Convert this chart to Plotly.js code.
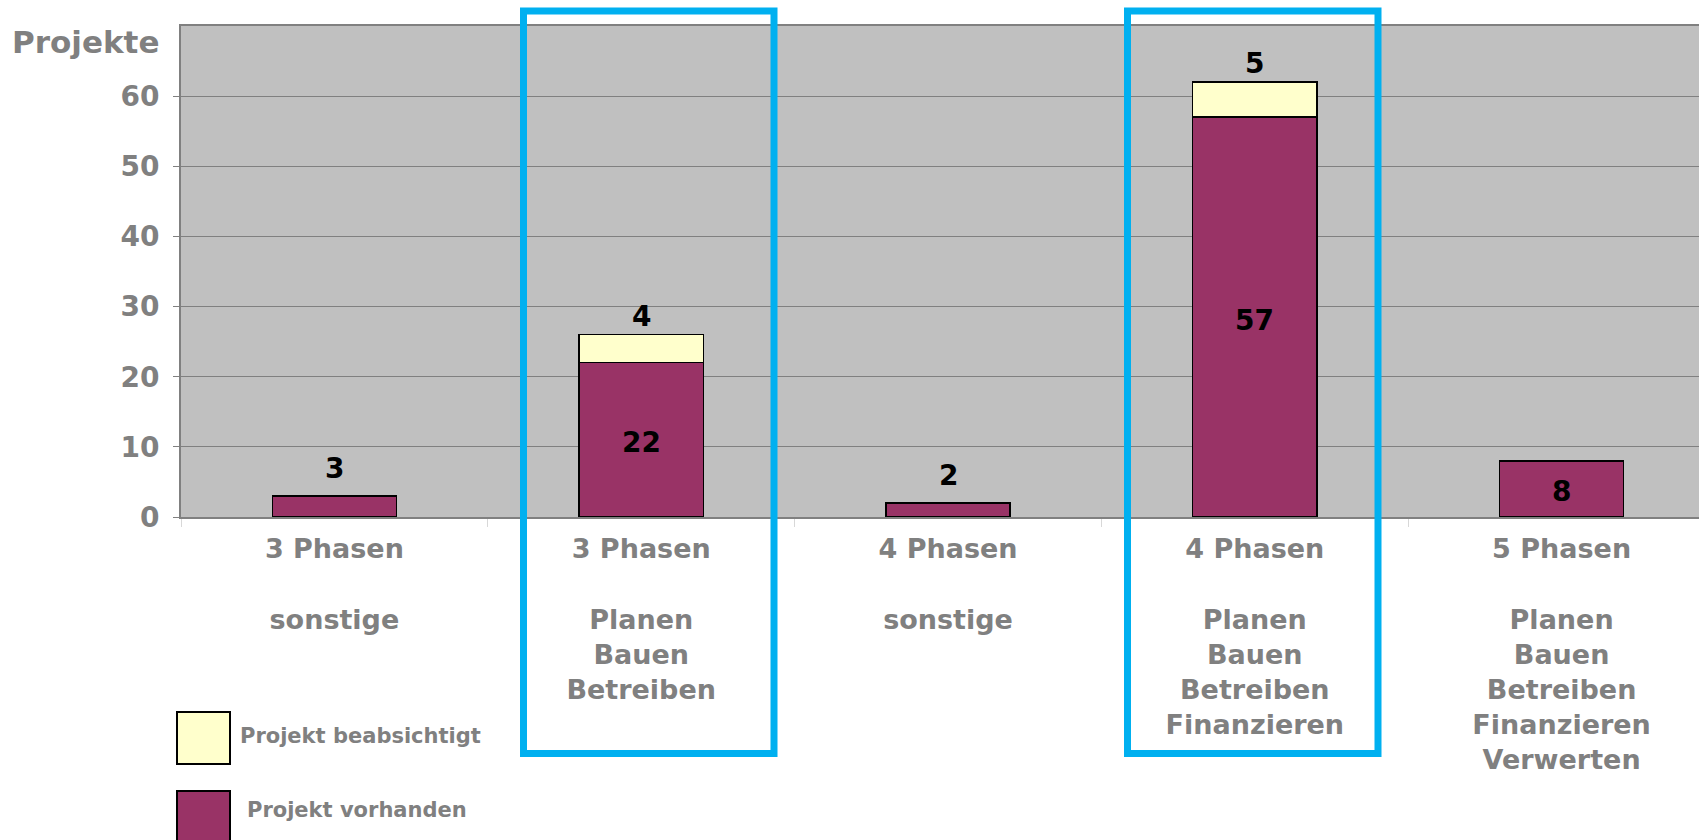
<!DOCTYPE html>
<html>
<head>
<meta charset="utf-8">
<script src="https://cdn.plot.ly/plotly-3.0.1.min.js"></script>
<style>
  html, body { margin: 0; padding: 0; background: #ffffff; overflow: hidden; }
  #chart { width: 1715px; height: 840px; }
</style>
</head>
<body>
<div id="chart"></div>
<script>
// ---- data ----
const categories = [
  '3 Phasen<br><br>sonstige',
  '3 Phasen<br><br>Planen<br>Bauen<br>Betreiben',
  '4 Phasen<br><br>sonstige',
  '4 Phasen<br><br>Planen<br>Bauen<br>Betreiben<br>Finanzieren',
  '5 Phasen<br><br>Planen<br>Bauen<br>Betreiben<br>Finanzieren<br>Verwerten'
];
const vorhanden = [3, 22, 2, 57, 8];
const beabsichtigt = [0, 4, 0, 5, 0];
const vorhandenLabelInside = [false, true, false, true, true];
const seriesNames = ['Projekt beabsichtigt', 'Projekt vorhanden'];
const yTicks = [0, 10, 20, 30, 40, 50, 60];
const yTitle = 'Projekte';

// ---- layout helpers (pixel -> paper) ----
const FULLW = 1715;
const L = 181, T = 26, W = FULLW - L, H = 491;
const px = x => (x - L) / W;
const py = y => (T + H - y) / H;

const gray = '#808080';
const fontFam = 'DejaVu Sans, Liberation Sans, Arial, sans-serif';

const traces = [
  {
    type: 'bar', name: seriesNames[1], x: categories, y: vorhanden,
    marker: { color: '#993366', line: { color: '#000000', width: 1.5 } },
    hoverinfo: 'skip', showlegend: false
  },
  {
    type: 'bar', name: seriesNames[0], x: categories, y: beabsichtigt,
    marker: { color: '#FFFFCC', line: { color: '#000000', width: 1.5 } },
    hoverinfo: 'skip', showlegend: false
  }
];

const labelFont = { family: fontFam, size: 28, color: '#000000', weight: 700 };
const annotations = [];
categories.forEach((c, i) => {
  const v = vorhanden[i], b = beabsichtigt[i];
  if (vorhandenLabelInside[i]) {
    annotations.push({ x: c, y: v / 2, xref: 'x', yref: 'y', text: String(v), showarrow: false,
      yanchor: 'middle', yshift: -3, font: labelFont });
  } else {
    annotations.push({ x: c, y: v, xref: 'x', yref: 'y', text: String(v), showarrow: false,
      yanchor: 'bottom', yshift: 9, font: labelFont });
  }
  if (b > 0) {
    annotations.push({ x: c, y: v + b, xref: 'x', yref: 'y', text: String(b), showarrow: false,
      yanchor: 'bottom', yshift: 0, font: labelFont });
  }
});

// y title
annotations.push({ x: px(10), y: py(42), xref: 'paper', yref: 'paper', text: yTitle, showarrow: false,
  xanchor: 'left', yanchor: 'middle', font: { family: fontFam, size: 31, color: gray, weight: 700 } });

// custom legend texts
annotations.push({ x: px(238), y: py(736), xref: 'paper', yref: 'paper', text: seriesNames[0], showarrow: false,
  xanchor: 'left', yanchor: 'middle', font: { family: fontFam, size: 21, color: gray, weight: 700 } });
annotations.push({ x: px(245), y: py(810), xref: 'paper', yref: 'paper', text: seriesNames[1], showarrow: false,
  xanchor: 'left', yanchor: 'middle', font: { family: fontFam, size: 21, color: gray, weight: 700 } });

const shapes = [
  // legend boxes
  { type: 'rect', xref: 'paper', yref: 'paper', x0: px(177), x1: px(230), y0: py(712), y1: py(764),
    fillcolor: '#FFFFCC', line: { color: '#000000', width: 2 } },
  { type: 'rect', xref: 'paper', yref: 'paper', x0: px(177), x1: px(230), y0: py(791), y1: py(846),
    fillcolor: '#993366', line: { color: '#000000', width: 2 } },
  // blue highlight frames
  { type: 'rect', xref: 'paper', yref: 'paper', x0: px(523.5), x1: px(774), y0: py(11), y1: py(753.5),
    fillcolor: 'rgba(0,0,0,0)', line: { color: '#00B0F0', width: 7 } },
  { type: 'rect', xref: 'paper', yref: 'paper', x0: px(1127.5), x1: px(1378), y0: py(11), y1: py(753.5),
    fillcolor: 'rgba(0,0,0,0)', line: { color: '#00B0F0', width: 7 } }
];

const layout = {
  width: FULLW, height: 840,
  margin: { l: L, r: 0, t: T, b: 840 - T - H, pad: 0 },
  paper_bgcolor: '#ffffff',
  plot_bgcolor: '#C0C0C0',
  barmode: 'stack',
  bargap: 0.595,
  showlegend: false,
  xaxis: {
    type: 'category', automargin: false,
    showline: true, linecolor: gray, linewidth: 2, mirror: true,
    showgrid: false, zeroline: false,
    ticks: 'outside', tickson: 'boundaries', ticklen: 8, tickcolor: '#d8d8d8', tickwidth: 1,
    ticklabelstandoff: 7,
    tickfont: { family: fontFam, size: 27, color: gray, weight: 700 }
  },
  yaxis: {
    range: [0, 70], automargin: false,
    tickvals: yTicks, ticktext: yTicks.map(String),
    showline: true, linecolor: gray, linewidth: 2,
    showgrid: true, gridcolor: gray, gridwidth: 1,
    zeroline: false,
    ticks: 'outside', ticklen: 6, tickcolor: gray, tickwidth: 1,
    ticklabelstandoff: 8,
    tickfont: { family: fontFam, size: 28, color: gray, weight: 700 }
  },
  annotations: annotations,
  shapes: shapes
};

Plotly.newPlot('chart', traces, layout, { displayModeBar: false, staticPlot: true });
</script>
</body>
</html>
